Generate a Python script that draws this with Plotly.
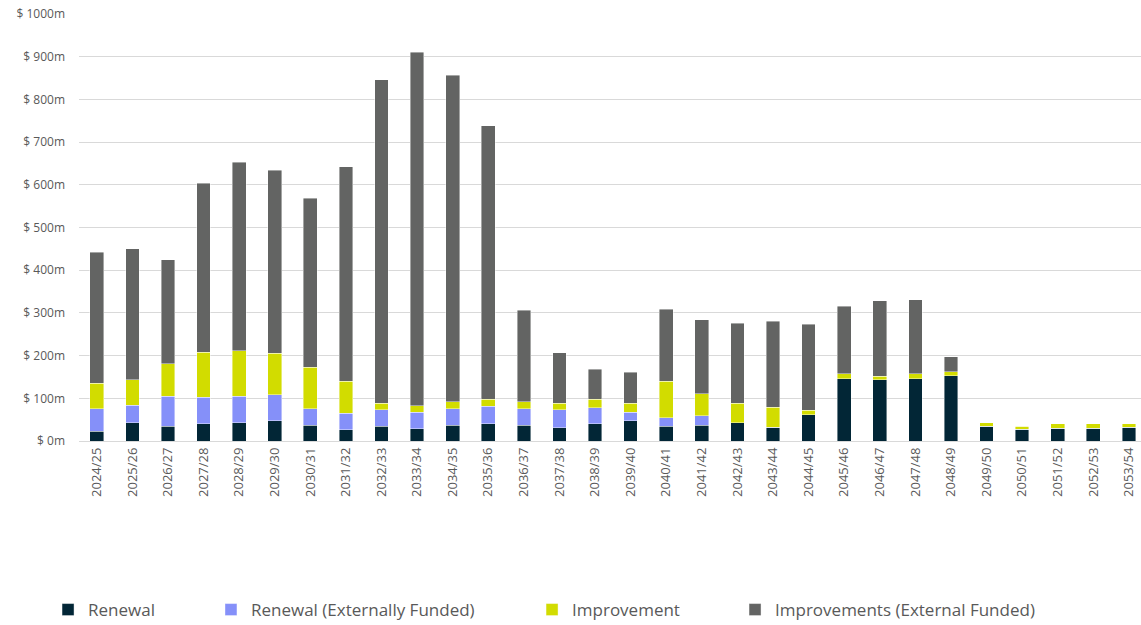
import plotly.graph_objects as go

years = ["2024/25", "2025/26", "2026/27", "2027/28", "2028/29", "2029/30", "2030/31", "2031/32",
         "2032/33", "2033/34", "2034/35", "2035/36", "2036/37", "2037/38", "2038/39", "2039/40",
         "2040/41", "2041/42", "2042/43", "2043/44", "2044/45", "2045/46", "2046/47", "2047/48",
         "2048/49", "2049/50", "2050/51", "2051/52", "2052/53", "2053/54"]

renewal = [23, 43, 34, 40, 43, 48, 37, 26, 34, 29, 37, 40, 37, 31, 40, 48,
           34, 37, 43, 32, 62, 146, 143, 146, 153, 34, 27, 30, 30, 32]
renewal_ext = [52, 41, 71, 62, 62, 60, 38, 39, 39, 38, 39, 41, 39, 42, 38, 19,
               20, 22, 0, 0, 0, 0, 0, 0, 0, 0, 0, 0, 0, 0]
improvement = [60, 60, 76, 106, 106, 97, 98, 75, 16, 16, 16, 17, 16, 16, 20, 22,
               86, 52, 46, 47, 10, 11, 9, 11, 9, 9, 8, 10, 10, 8]
improvement_ext = [307, 306, 244, 396, 442, 429, 396, 502, 757, 828, 765, 640, 214, 118, 70, 72,
                   169, 173, 187, 201, 202, 159, 176, 174, 35, 0, 0, 0, 0, 0]

y_ticks = [0, 100, 200, 300, 400, 500, 600, 700, 800, 900, 1000]
y_labels = ["$ %dm" % v for v in y_ticks]

series = [
    ("Renewal", renewal, "#022636", "legend", 0.0421),
    ("Renewal (Externally Funded)", renewal_ext, "#8590F9", "legend2", 0.1849),
    ("Improvement", improvement, "#D2DC00", "legend3", 0.4663),
    ("Improvements (External Funded)", improvement_ext, "#636463", "legend4", 0.6442),
]

fig = go.Figure()
for name, vals, color, lg, _ in series:
    fig.add_trace(go.Bar(
        x=years, y=vals, name=name, legend=lg, showlegend=True,
        marker=dict(color=color, line=dict(color="rgba(255,255,255,0.7)", width=0.6)),
    ))

font_family = "Open Sans, Liberation Sans, sans-serif"
leg_common = dict(orientation="h", xref="container", yref="container",
                  yanchor="middle", y=0.024, xanchor="left",
                  font=dict(family=font_family, size=17, color="#595959"),
                  bgcolor="rgba(0,0,0,0)", itemwidth=30, visible=True)

legends = {}
for _, _, _, lg, lx in series:
    legends[lg] = dict(leg_common, x=lx)

fig.update_layout(
    barmode="stack",
    bargap=0.615,
    showlegend=True,
    width=1141, height=625,
    margin=dict(l=79, r=0, t=13.5, b=184, autoexpand=False),
    plot_bgcolor="white", paper_bgcolor="white",
    font=dict(family=font_family, color="#595959"),
    xaxis=dict(
        type="category", tickangle=-90, range=[-0.5, 29.34],
        tickfont=dict(size=13, color="#595959"),
        showgrid=False, showline=False, ticks="",
        ticklabelstandoff=3, automargin=False,
    ),
    yaxis=dict(
        range=[0, 1000], tickvals=y_ticks, ticktext=y_labels,
        tickfont=dict(size=12, color="#595959"),
        showgrid=True, gridcolor="#D9D9D9", gridwidth=1,
        zeroline=True, zerolinecolor="#D9D9D9", zerolinewidth=1,
        showline=False, ticks="", ticklabelstandoff=13, automargin=False,
    ),
    **legends,
)

fig.write_html("out.html", config={"displayModeBar": False},
               post_script="document.body.style.margin='0';")
